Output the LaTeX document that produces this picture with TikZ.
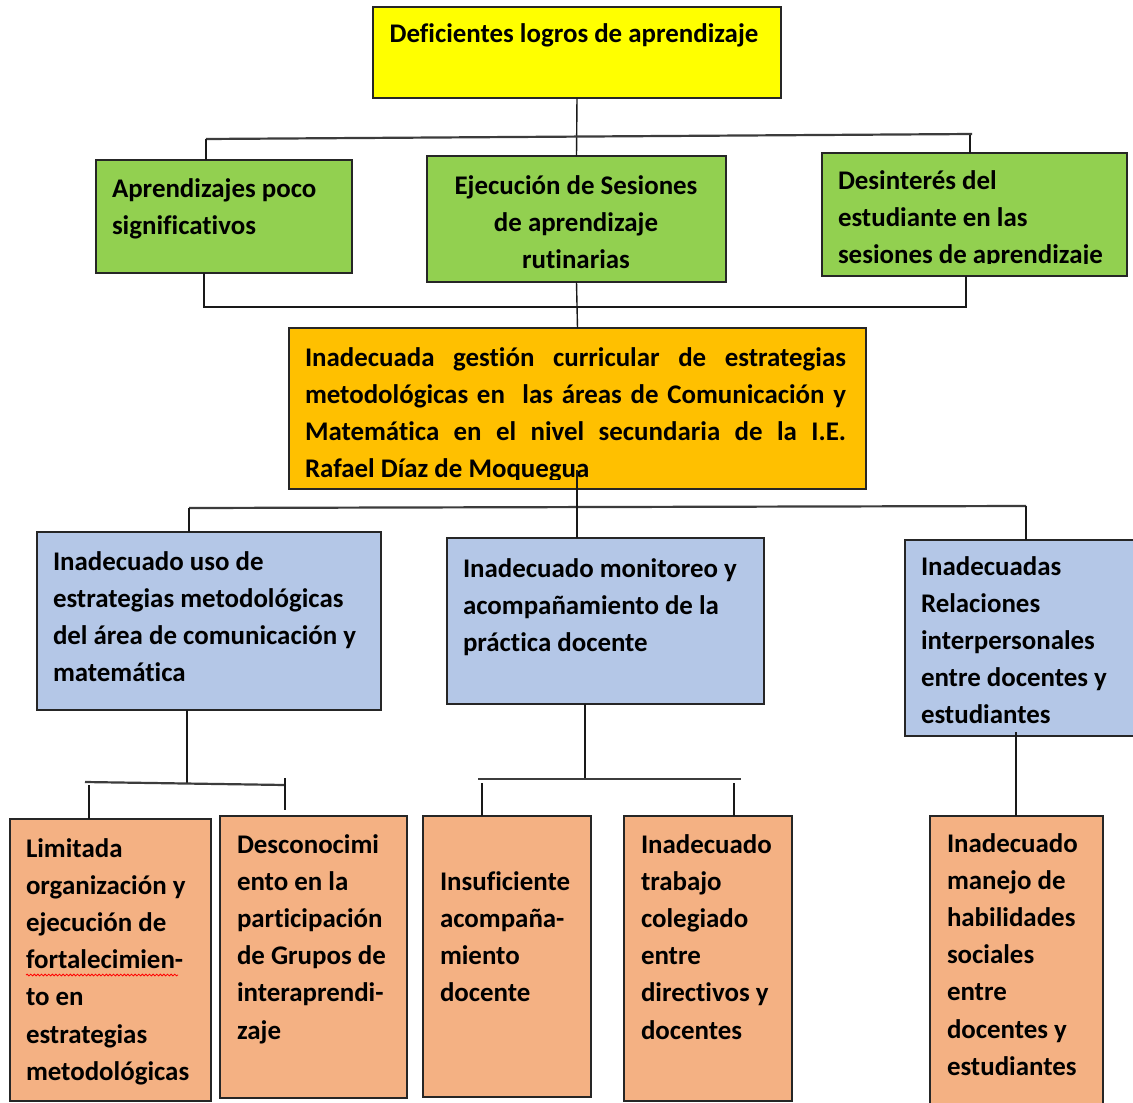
\documentclass[tikz,border=0pt]{standalone}
\usepackage{fontspec}
\setmainfont{Carlito}[Ligatures={NoCommon}]
\usetikzlibrary{decorations.pathmorphing}
\definecolor{yel}{HTML}{FFFF00}
\definecolor{grn}{HTML}{92D050}
\definecolor{org}{HTML}{FFC000}
\definecolor{blu}{HTML}{B4C7E7}
\definecolor{sal}{HTML}{F4B183}
\definecolor{edge}{HTML}{262626}
\definecolor{barc}{HTML}{3C3C3C}
\newcommand{\resetsp}{\spaceskip=0pt\relax\xspaceskip=0pt\relax}
\newcommand{\jline}[1]{\makebox[541pt][s]{#1}}
\begin{document}
\begin{tikzpicture}[x=1pt,y=-1pt,
  bx/.style={draw=edge, line width=1.5pt, anchor=north west, inner sep=0pt, outer sep=0pt},
  txt/.style={inner sep=0pt, outer sep=0pt, align=left, anchor=base west,
     font=\fontsize{26.9}{37.2}\selectfont\bfseries,
     execute at begin node={\resetsp}},
  conn/.style={line width=1.4pt, draw=black!90},
  bar/.style={line width=2.2pt, draw=barc}]
\useasboundingbox (0,0) rectangle (1133,1103);
\clip (0,0) rectangle (1133,1103);
\fill[white] (0,0) rectangle (1133,1103);

% ---------- boxes ----------
\node[bx, fill=yel, minimum width=408, minimum height=91] (top) at (373,7) {};
\node[bx, fill=grn, minimum width=256, minimum height=113] (g1) at (96,160) {};
\node[bx, fill=grn, minimum width=299, minimum height=126] (g2) at (427,156) {};
\node[bx, fill=grn, minimum width=305, minimum height=123] (g3) at (822,153) {};
\node[bx, fill=org, minimum width=577, minimum height=161] (core) at (289,328) {};
\node[bx, fill=blu, minimum width=344, minimum height=178] (b1) at (37,532) {};
\node[bx, fill=blu, minimum width=317, minimum height=166] (b2) at (447,538) {};
\node[bx, fill=blu, minimum width=240, minimum height=196] (b3) at (905,540) {};
\node[bx, fill=sal, minimum width=201, minimum height=282] (o1) at (10,819) {};
\node[bx, fill=sal, minimum width=187, minimum height=282] (o2) at (220,816) {};
\node[bx, fill=sal, minimum width=168, minimum height=281] (o3) at (423,816) {};
\node[bx, fill=sal, minimum width=168, minimum height=285] (o4) at (624,816) {};
\node[bx, fill=sal, minimum width=173, minimum height=300] (o5) at (930,816) {};

% ---------- texts ----------
\node[txt, anchor=base, align=center, text width=400] (topt) at (574,42) {\mbox{Deficientes logros de aprendizaje}};
\node[txt, text width=236] (g1t) at (112,197) {Aprendizajes poco\\significativos};
\node[txt, anchor=base, align=center, text width=296] (g2t) at (576,194) {\mbox{Ejecución de Sesiones}\\\mbox{de aprendizaje}\\\mbox{rutinarias}};
\begin{scope}
  \clip (822,153) rectangle (1127,263);
  \node[txt, text width=286] (g3t) at (838,189) {Desinterés del\\estudiante en las\\sesiones de aprendizaje};
\end{scope}
\begin{scope}
  \clip (289,328) rectangle (866,479);
  \node[txt, text width=545] (coret) at (305,366)
   {\jline{Inadecuada gestión curricular de estrategias}\\
    \jline{metodológicas en\ \ las áreas de Comunicación y}\\
    \jline{Matemática en el nivel secundaria de la I.E.}\\
    Rafael Díaz de Moquegua};
\end{scope}
\node[txt, text width=326] (b1t) at (53,570) {Inadecuado uso de\\estrategias metodológicas\\del área de comunicación y\\matemática};
\node[txt, text width=298] (b2t) at (463,577) {Inadecuado monitoreo y\\acompañamiento de la\\práctica docente};
\node[txt, text width=205] (b3t) at (921,575) {Inadecuadas\\Relaciones\\interpersonales\\entre docentes y\\estudiantes};
\node[txt, text width=182] (o1t) at (26,857) {Limitada\\organización y\\ejecución de\\fortalecimien-\\to en\\estrategias\\metodológicas};
\node[txt, text width=168] (o2t) at (237,853) {Desconocimi\\ento en la\\participación\\de Grupos de\\interaprendi-\\zaje};
\node[txt, text width=148] (o3t) at (440,890) {Insuficiente\\acompaña-\\miento\\docente};
\node[txt, text width=148] (o4t) at (641,853) {Inadecuado\\trabajo\\colegiado\\entre\\directivos y\\docentes};
\node[txt, text width=153] (o5t) at (947,852) {Inadecuado\\manejo de\\habilidades\\sociales\\entre\\docentes y\\estudiantes};

% spell-check squiggle
\coordinate (sqA) at (26,975);
\coordinate (sqB) at (178,975);
\draw[red, line width=0.8pt, decorate, decoration={snake, amplitude=0.9pt, segment length=3.6pt}] (sqA) -- (sqB);

% ---------- connectors: top level ----------
\coordinate (bL) at (206,139);
\coordinate (bR) at (972,134);
\coordinate (bRv) at (970,134.5);
\draw[conn] (top.south) -- (g2.north);
\draw[bar] (bL) -- (bR);
\draw[conn] (bL) -- (bL |- g1.north);
\draw[conn] (bRv) -- (bRv |- g3.north);

\coordinate (cL) at (204,307);
\coordinate (cR) at (966,307);
\draw[conn] (cL |- g1.south) -- (cL) -- (cR) -- (cR |- g3.south);
\draw[conn] (g2.south) -- (core.north);

% ---------- connectors: core to blue ----------
\coordinate (dL) at (189,508);
\coordinate (dR) at (1026,506);
\coordinate (dM) at (577,470);
\draw[bar] (dL) -- (dR);
\draw[conn] (dL) -- (dL |- b1.north);
\draw[conn] (dR) -- (dR |- b3.north);
\draw[conn] (dM) -- (dM |- b2.north);

% ---------- connectors: blue 1 ----------
\coordinate (e1) at (187,783);
\coordinate (eL) at (85,782);
\coordinate (eR) at (285,785);
\coordinate (eLv) at (89,785);
\coordinate (eRt) at (285,778);
\coordinate (eRb) at (285,810);
\draw[conn] (e1 |- b1.south) -- (e1);
\draw[bar] (eL) -- (eR);
\draw[conn] (eLv) -- (eLv |- o1.north);
\draw[conn] (eRt) -- (eRb);

% ---------- connectors: blue 2 ----------
\coordinate (f1) at (585,779);
\coordinate (fL) at (478,779);
\coordinate (fR) at (741,779);
\coordinate (fLv) at (482,783);
\coordinate (fRv) at (734,783);
\draw[conn] (f1 |- b2.south) -- (f1);
\draw[bar] (fL) -- (fR);
\draw[conn] (fLv) -- (fLv |- o3.north);
\draw[conn] (fRv) -- (fRv |- o4.north);

% ---------- connectors: blue 3 ----------
\coordinate (hv) at (1016,732);
\draw[conn] (hv) -- (hv |- o5.north);
\end{tikzpicture}
\end{document}
